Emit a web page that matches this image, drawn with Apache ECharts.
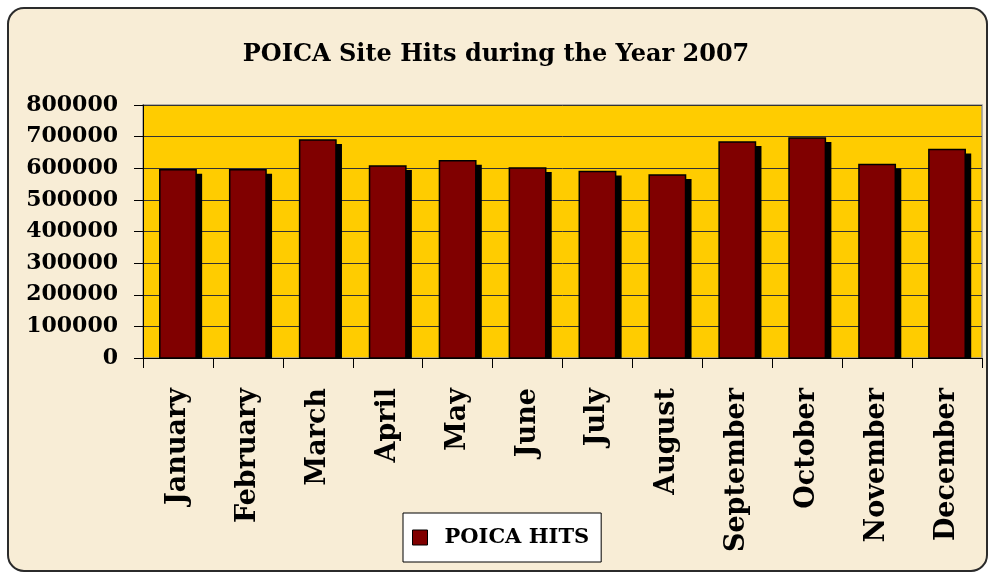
<!DOCTYPE html>
<html lang="en">
<head>
    <meta charset="UTF-8">
    <title>POICA Site Hits</title>
    <script src="https://cdn.jsdelivr.net/npm/echarts@6/dist/echarts.min.js"></script>
    <style>
        html, body { margin: 0; padding: 0; background: #ffffff; }
        #container { width: 992px; height: 579px; }
    </style>
</head>
<body>
<div id="container"></div>
<script type="text/javascript">
    // data
    let months = ['January', 'February', 'March', 'April', 'May', 'June',
        'July', 'August', 'September', 'October', 'November', 'December'];
    let hits = [595000, 595000, 689000, 607000, 624000, 601000,
        590000, 579000, 683000, 696000, 612000, 659000];
    let seriesName = 'POICA HITS';
    let yTicks = [0, 800000, 100000]; // min, max, step

    let font = 'DejaVu Serif';

    let myChart = echarts.init(document.getElementById('container'));

    // bar with a hard black drop shadow, like the old excel look
    function renderBar(params, api) {
        let top = api.coord([api.value(0), api.value(1)]);
        let base = api.coord([api.value(0), 0]);
        let w = api.size([1, 0])[0] * 0.52;
        let h = base[1] - top[1];
        return {
            type: 'group',
            children: [{
                type: 'rect',
                shape: {x: top[0] - w / 2 + 6, y: top[1] + 4, width: w, height: h - 4},
                style: {fill: '#000000'}
            }, {
                type: 'rect',
                shape: {x: top[0] - w / 2, y: top[1], width: w, height: h},
                style: {fill: '#800000', stroke: '#000000', lineWidth: 1.5}
            }]
        };
    }

    let option = {
        backgroundColor: '#ffffff',
        animation: false,
        graphic: [{
            type: 'rect',
            z: -10,
            shape: {x: 8, y: 8, width: 979, height: 563, r: 16},
            style: {fill: '#f8edd6', stroke: '#2b2b2b', lineWidth: 2}
        }, {
            // plot area fill + gray frame
            type: 'rect',
            z: -5,
            shape: {x: 143, y: 105, width: 839, height: 253},
            style: {fill: '#ffcc00', stroke: '#999999', lineWidth: 1.5}
        }],
        title: {
            text: 'POICA Site Hits during the Year 2007',
            left: 'center',
            top: 38,
            textStyle: {fontFamily: font, fontWeight: 'bold', fontSize: 24, color: '#000'}
        },
        legend: {
            data: [seriesName],
            left: 403,
            top: 513,
            padding: [14, 12, 14, 9],
            backgroundColor: '#ffffff',
            borderColor: '#000000',
            borderWidth: 1,
            borderRadius: 0,
            icon: 'rect',
            itemWidth: 15,
            itemHeight: 15,
            itemGap: 6,
            itemStyle: {color: '#800000', borderColor: '#000', borderWidth: 1},
            textStyle: {
                fontFamily: font, fontWeight: 'bold', fontSize: 21, color: '#000',
                padding: [0, 0, 0, 12]
            }
        },
        grid: {left: 143, right: 10, top: 105, bottom: 221},
        xAxis: {
            type: 'category',
            data: months,
            axisLine: {lineStyle: {color: '#000', width: 1}},
            axisTick: {show: true, length: 10, lineStyle: {color: '#000'}},
            axisLabel: {
                rotate: 90,
                margin: 30,
                color: '#000',
                fontFamily: font,
                fontWeight: 'bold',
                fontSize: 27
            }
        },
        yAxis: {
            type: 'value',
            min: yTicks[0],
            max: yTicks[1],
            interval: yTicks[2],
            axisLine: {show: true, lineStyle: {color: '#000', width: 1}},
            axisTick: {show: true, length: 9, lineStyle: {color: '#000'}},
            splitLine: {lineStyle: {color: '#333', width: 1}},
            axisLabel: {
                margin: 25,
                color: '#000',
                fontFamily: font,
                fontWeight: 'bold',
                fontSize: 22,
                formatter: function (v) { return String(v); }
            }
        },
        series: [{
            name: seriesName,
            type: 'custom',
            renderItem: renderBar,
            itemStyle: {color: '#800000'},
            encode: {x: 0, y: 1},
            data: hits.map(function (v, i) { return [i, v]; })
        }]
    };
    myChart.setOption(option);
</script>
</body>
</html>
